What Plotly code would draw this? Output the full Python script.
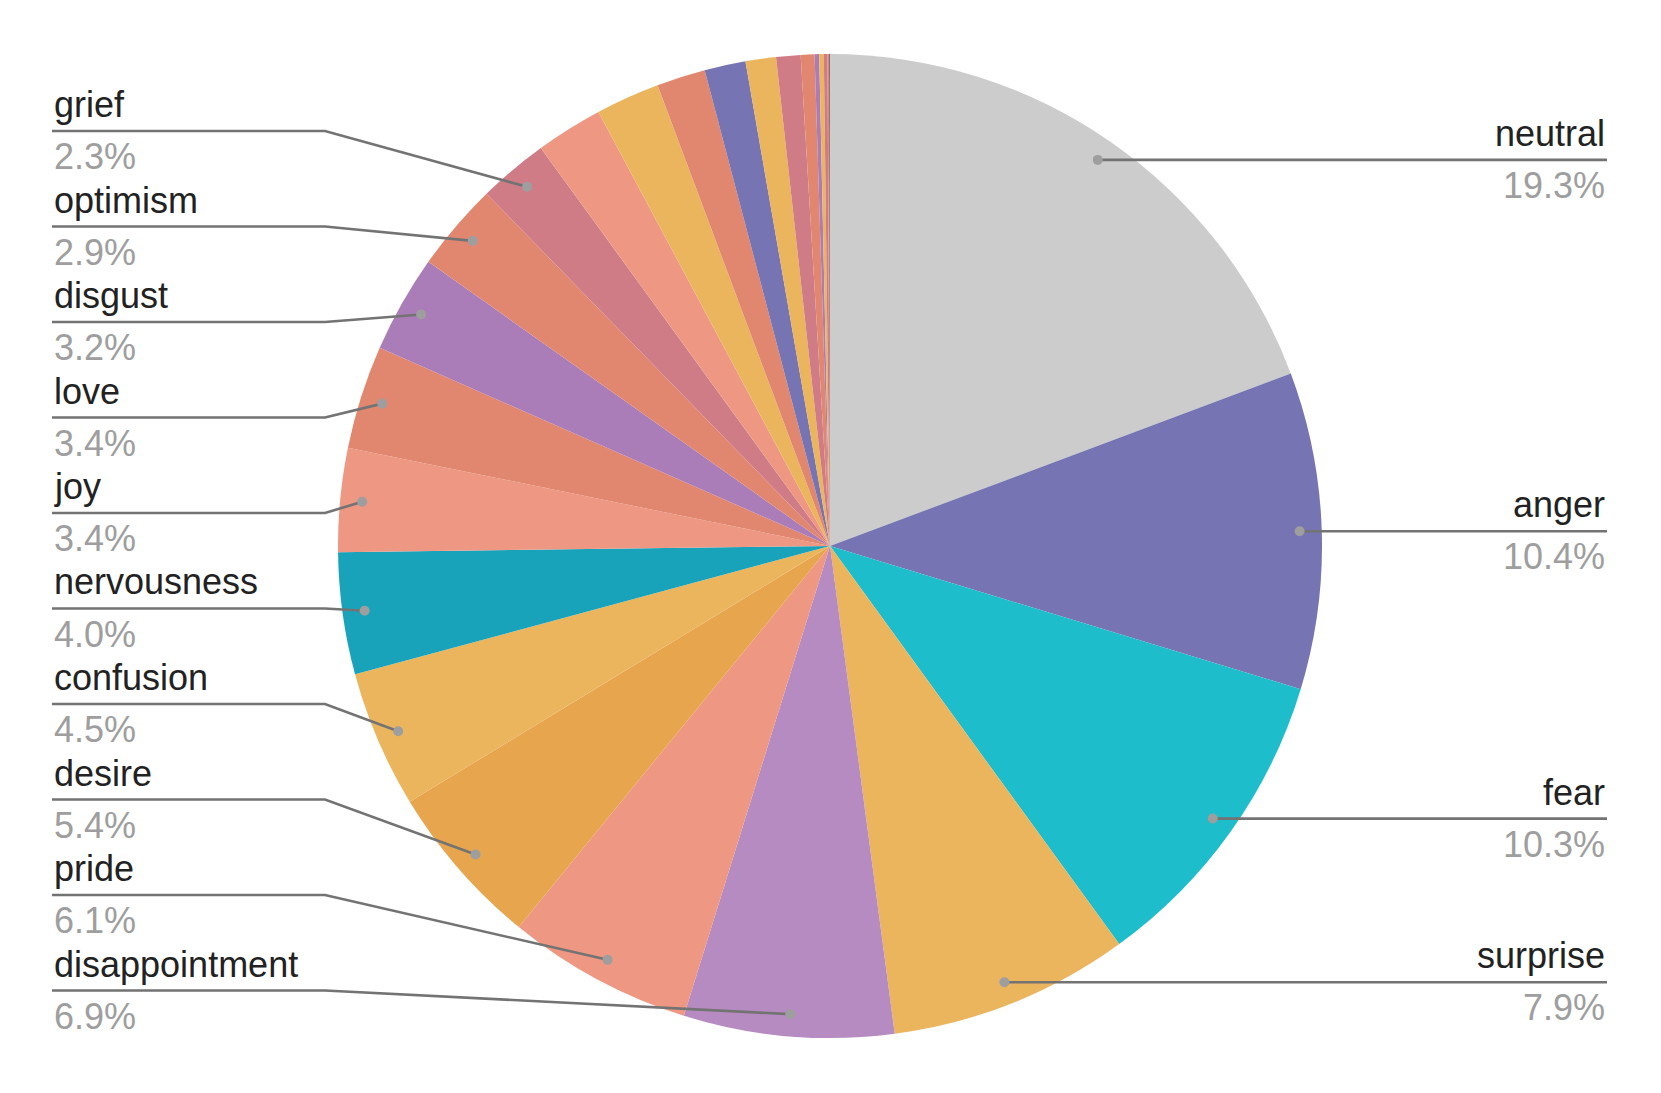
import math
import plotly.graph_objects as go

labels = ["neutral", "anger", "fear", "surprise", "disappointment", "pride", "desire",
          "confusion", "nervousness", "joy", "love", "disgust", "optimism", "grief",
          "sadness", "excitement", "caring", "remorse", "embarrassment", "relief",
          "amusement", "curiosity", "realization", "annoyance", "approval", "admiration"]
values = [19.3, 10.4, 10.3, 7.9, 6.9, 6.1, 5.4, 4.5, 4.0, 3.4, 3.4, 3.2, 2.9, 2.3,
          2.2, 2.1, 1.6, 1.35, 1.0, 0.8, 0.45, 0.15, 0.15, 0.12, 0.06, 0.02]
colors = ["#cccccc", "#7774b3", "#1dbdcb", "#ebb55e", "#b58bc1", "#ee9783", "#e7a54d",
          "#ebb55e", "#18a3bb", "#ee9783", "#e2876f", "#ab7db8", "#e2876f", "#d07c87",
          "#ee9783", "#ebb55e", "#e2876f", "#7774b3", "#ebb55e", "#d07c87",
          "#e2876f", "#ab7db8", "#ebb55e", "#d07c87", "#e2876f", "#3a3a55"]

right_labels = ["neutral", "anger", "fear", "surprise"]
left_labels = ["grief", "optimism", "disgust", "love", "joy", "nervousness",
               "confusion", "desire", "pride", "disappointment"]

# page geometry (pixels); the html body adds an 8px margin
W, H = 1661, 1093
OFF = 8
cx, cy, R = 830, 546, 492
dot_r = 0.955 * R
left_x, elbow_x, right_x = 52, 325, 1607
left_top, left_step = 131, 95.5

FONT = "Liberation Sans, Arial, sans-serif"

def px(x):
    return (x - OFF) / W

def py(y):
    return 1 - (y - OFF) / H

total = sum(values)
mid = {}
cum = 0
for lab, v in zip(labels, values):
    a = math.radians((cum + v / 2) / total * 360)
    mid[lab] = (cx + dot_r * math.sin(a), cy - dot_r * math.cos(a), v / total * 100)
    cum += v

fig = go.Figure(go.Pie(
    labels=labels, values=values, sort=False, direction="clockwise", rotation=0,
    marker=dict(colors=colors, line=dict(width=0)),
    textinfo="none", showlegend=False,
    domain=dict(x=[px(cx - R), px(cx + R)], y=[py(cy + R), py(cy - R)]),
))

shapes = []
annotations = []

def add_label(name, pct, x, y, anchor):
    annotations.append(dict(x=px(x), y=py(y - 4), xref="paper", yref="paper", text=name,
                            showarrow=False, xanchor=anchor, yanchor="bottom",
                            font=dict(family=FONT, size=36, color="#222222")))
    annotations.append(dict(x=px(x), y=py(y + 3), xref="paper", yref="paper",
                            text=f"{pct:.1f}%", showarrow=False, xanchor=anchor, yanchor="top",
                            font=dict(family=FONT, size=36, color="#9e9e9e")))

def add_dot(x, y):
    shapes.append(dict(type="circle", xref="paper", yref="paper",
                       x0=px(x - 5), x1=px(x + 5), y0=py(y + 5), y1=py(y - 5),
                       fillcolor="#9e9e9e", line=dict(width=0), layer="above"))

for lab in right_labels:
    x, y, pct = mid[lab]
    shapes.append(dict(type="line", xref="paper", yref="paper",
                       x0=px(x), y0=py(y), x1=px(right_x), y1=py(y),
                       line=dict(color="#737373", width=2.6), layer="above"))
    add_dot(x, y)
    add_label(lab, pct, right_x, y, "right")

for i, lab in enumerate(left_labels):
    x, y, pct = mid[lab]
    ly = left_top + i * left_step
    path = f"M {px(left_x)},{py(ly)} L {px(elbow_x)},{py(ly)} L {px(x)},{py(y)}"
    shapes.append(dict(type="path", xref="paper", yref="paper", path=path,
                       line=dict(color="#737373", width=2.6), layer="above"))
    add_dot(x, y)
    add_label(lab, pct, left_x, ly, "left")

fig.update_layout(
    width=W, height=H,
    margin=dict(l=0, r=0, t=0, b=0),
    paper_bgcolor="white", plot_bgcolor="white",
    shapes=shapes, annotations=annotations,
)

fig.write_html("out.html")
